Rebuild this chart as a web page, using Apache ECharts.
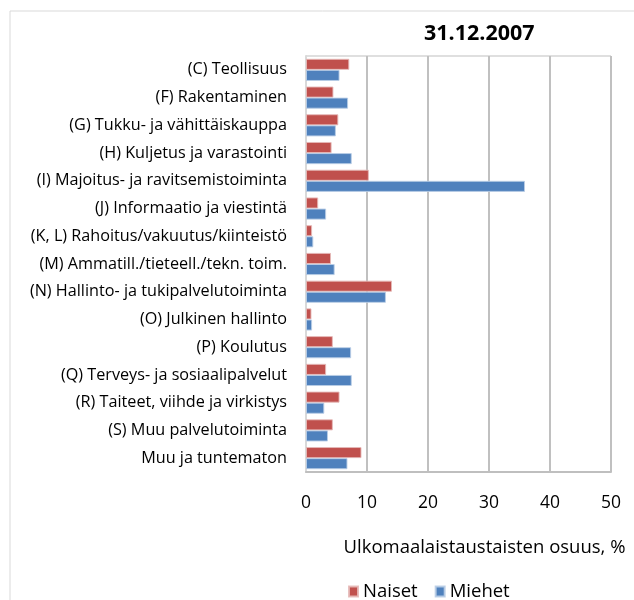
<!DOCTYPE html>
<html>
<head>
<meta charset="utf-8">
<style>
  html, body { margin: 0; padding: 0; background: #fff; }
  #chart { width: 634px; height: 600px; }
</style>
<script src="https://cdn.jsdelivr.net/npm/echarts@6/dist/echarts.min.js"></script>
</head>
<body>
<div id="chart"></div>
<script>
"use strict";

const categories = [
  "(C) Teollisuus",
  "(F) Rakentaminen",
  "(G) Tukku- ja vähittäiskauppa",
  "(H) Kuljetus ja varastointi",
  "(I) Majoitus- ja ravitsemistoiminta",
  "(J) Informaatio ja viestintä",
  "(K, L) Rahoitus/vakuutus/kiinteistö",
  "(M) Ammatill./tieteell./tekn. toim.",
  "(N) Hallinto- ja tukipalvelutoiminta",
  "(O) Julkinen hallinto",
  "(P) Koulutus",
  "(Q) Terveys- ja sosiaalipalvelut",
  "(R) Taiteet, viihde ja virkistys",
  "(S) Muu palvelutoiminta",
  "Muu ja tuntematon",
];
const naiset = [7.1, 4.5, 5.3, 4.2, 10.3, 2.0, 1.0, 4.1, 14.1, 0.9, 4.4, 3.3, 5.5, 4.4, 9.1];
const miehet = [5.5, 6.9, 4.9, 7.5, 35.9, 3.3, 1.2, 4.7, 13.1, 1.0, 7.4, 7.5, 3.0, 3.6, 6.8];

const FONT = "'Open Sans', sans-serif";

const chart = echarts.init(document.getElementById("chart"));
chart.setOption({
  animation: false,
  textStyle: { fontFamily: FONT, color: "#000" },
  title: {
    text: "31.12.2007",
    left: 419, top: 18,
    textStyle: { fontSize: 21.5, fontWeight: "bold", color: "#000", fontFamily: FONT },
  },
  graphic: [{
    type: "rect",
    shape: { x: 10, y: 11, width: 640, height: 620 },
    style: { fill: "none", stroke: "#d9d9d9", lineWidth: 1 },
    silent: true,
  }],
  legend: {
    left: 343, top: 577,
    itemWidth: 9, itemHeight: 10, itemGap: 17,
    icon: "rect",
    textStyle: { fontSize: 18.5, color: "#000", fontFamily: FONT },
    data: ["Naiset", "Miehet"],
  },
  grid: {
    left: 306, right: 23, top: 56, bottom: 128,
    show: true, borderColor: "#bfbfbf", borderWidth: 1,
  },
  xAxis: {
    type: "value",
    min: 0, max: 50, interval: 10,
    axisLine: { show: true, lineStyle: { color: "#bfbfbf", width: 2 } },
    axisTick: { show: false },
    axisLabel: { fontSize: 17.5, color: "#000", margin: 22 },
    splitLine: { lineStyle: { color: "#c0c0c0", width: 2 } },
    name: "Ulkomaalaistaustaisten osuus, %",
    nameLocation: "middle",
    nameGap: 66,
    nameTextStyle: { fontSize: 18.5, color: "#000", padding: [0, 0, 0, 52] },
  },
  yAxis: {
    type: "category",
    inverse: true,
    data: categories,
    axisLine: { show: true, lineStyle: { color: "#d9d9d9", width: 2 } },
    axisTick: { show: false },
    axisLabel: { fontSize: 16.2, color: "#000", margin: 19 },
  },
  series: [
    {
      name: "Naiset", type: "bar", data: naiset,
      barGap: "0%", barCategoryGap: "20%",
      itemStyle: { color: "#c0504d", borderColor: "rgba(230,185,184,0.9)", borderWidth: 1 },
    },
    {
      name: "Miehet", type: "bar", data: miehet,
      barGap: "0%", barCategoryGap: "20%",
      itemStyle: { color: "#4f81bd", borderColor: "rgba(185,205,229,0.9)", borderWidth: 1 },
    },
  ],
});
</script>
</body>
</html>
